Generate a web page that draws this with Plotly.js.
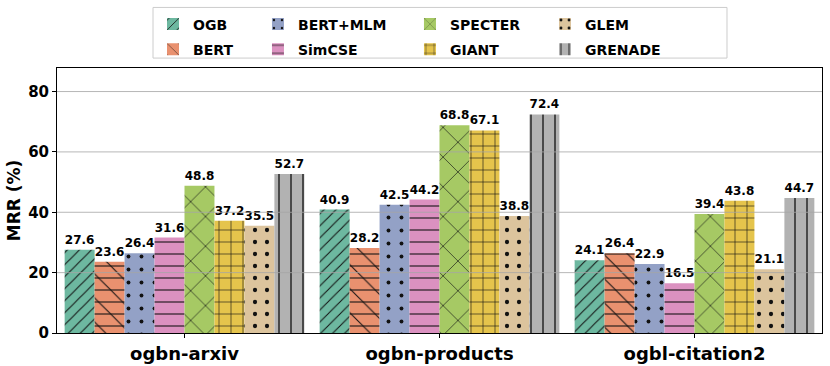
<!DOCTYPE html>
<html>
<head>
<meta charset="utf-8">
<script src="https://cdn.plot.ly/plotly-3.0.1.min.js"></script>
<style>
  html, body { margin: 0; padding: 0; background: #fff; }
  #chart { width: 830px; height: 366px; }
</style>
</head>
<body>
<div id="chart"></div>
<script>
// MRR (%) per dataset for each method
const datasets = ['ogbn-arxiv', 'ogbn-products', 'ogbl-citation2'];
const methods = ['OGB', 'BERT', 'BERT+MLM', 'SimCSE', 'SPECTER', 'GIANT', 'GLEM', 'GRENADE'];

const ogb = [27.6, 40.9, 24.1];
const bert = [23.6, 28.2, 26.4];
const bertMlm = [26.4, 42.5, 22.9];
const simcse = [31.6, 44.2, 16.5];
const specter = [48.8, 68.8, 39.4];
const giant = [37.2, 67.1, 43.8];
const glem = [35.5, 38.8, 21.1];
const grenade = [52.7, 72.4, 44.7];

const yTicks = [0, 20, 40, 60, 80];

const values = [ogb, bert, bertMlm, simcse, specter, giant, glem, grenade];
const colors = ['#6db8a0', '#e9916f', '#93a1c6', '#db91c0', '#a6c964', '#e5c44c', '#dcc49d', '#b2b2b2'];
const patterns = [
    { shape: '/', size: 8.5, solidity: 0.12 },
    { shape: '\\', size: 17, solidity: 0.06 },
    { shape: '.', size: 13, solidity: 0.07 },
    { shape: '-', size: 12, solidity: 0.09 },
    { shape: 'x', size: 21, solidity: 0.06 },
    { shape: '+', size: 12, solidity: 0.1 },
    { shape: '.', size: 12, solidity: 0.1 },
    { shape: '|', size: 12, solidity: 0.16 }
];
const legendCols = [0.1255, 0.2627, 0.4614, 0.6379];

const FONT = 'DejaVu Sans';
const nBars = methods.length;
const groupWidth = 0.94;
const barWidth = groupWidth / nBars;

const traces = [];
methods.forEach((name, i) => {
    const offset = -groupWidth / 2 + i * barWidth;
    const legendId = i < 2 ? 'legend' : 'legend' + (Math.floor(i / 2) + 1);
    traces.push({
        type: 'bar',
        name: name,
        x: datasets,
        y: values[i],
        width: barWidth,
        offset: offset,
        legend: legendId,
        legendgroup: name,
        marker: {
            color: colors[i],
            line: { width: 0 },
            pattern: Object.assign({ fgcolor: i === 7 ? '#444444' : '#111111', bgcolor: colors[i], fillmode: 'replace' }, patterns[i])
        },
        texttemplate: '%{y:.1f}',
        textposition: 'outside',
        textangle: 0,
        constraintext: 'none',
        cliponaxis: false,
        textfont: { family: FONT, size: 12, color: '#000', weight: 'bold' },
        hoverinfo: 'x+y+name'
    });
    // BERT bars carry horizontal lines on top of the backslash hatch
    if (name === 'BERT') {
        traces.push({
            type: 'bar',
            name: name,
            x: datasets,
            y: values[i],
            width: barWidth,
            offset: offset,
            showlegend: false,
            legend: legendId,
            legendgroup: name,
            marker: {
                color: 'rgba(0,0,0,0)',
                line: { width: 0 },
                pattern: { shape: '-', size: 12, solidity: 0.09, fgcolor: '#111111', bgcolor: 'rgba(0,0,0,0)', fillmode: 'replace' }
            },
            hoverinfo: 'skip'
        });
    }
});

const legendBase = {
    orientation: 'v',
    y: 1.2247,
    yanchor: 'top',
    xanchor: 'left',
    bgcolor: 'rgba(0,0,0,0)',
    borderwidth: 0,
    tracegroupgap: 4,
    font: { family: FONT, size: 14, color: '#000', weight: 'bold' }
};

const gridShapes = yTicks.filter(v => v > 0).map(v => ({
    type: 'line', xref: 'paper', x0: 0, x1: 1, yref: 'y', y0: v, y1: v,
    line: { color: 'rgba(165,165,165,0.8)', width: 1 },
    layer: 'above'
}));

const layout = {
    width: 830,
    height: 366,
    margin: { l: 57, r: 8, t: 66, b: 33 },
    paper_bgcolor: '#fff',
    plot_bgcolor: '#fff',
    barmode: 'overlay',
    font: { family: FONT, color: '#000' },
    xaxis: {
        type: 'category',
        range: [-0.5, 2.5],
        showgrid: false,
        showline: true,
        mirror: true,
        linecolor: '#000',
        linewidth: 1,
        ticks: 'outside',
        ticklen: 4,
        tickcolor: '#000',
        tickfont: { family: FONT, size: 18, color: '#000', weight: 'bold' }
    },
    yaxis: {
        range: [0, 87.8],
        tickvals: yTicks,
        showgrid: false,
        zeroline: false,
        showline: true,
        mirror: true,
        linecolor: '#000',
        linewidth: 1,
        ticks: 'outside',
        ticklen: 4,
        tickcolor: '#000',
        tickfont: { family: FONT, size: 15, color: '#000', weight: 'bold' },
        title: { text: 'MRR (%)', standoff: 3, font: { family: FONT, size: 17, color: '#000', weight: 'bold' } }
    },
    legend: Object.assign({ x: legendCols[0] }, legendBase),
    legend2: Object.assign({ x: legendCols[1] }, legendBase),
    legend3: Object.assign({ x: legendCols[2] }, legendBase),
    legend4: Object.assign({ x: legendCols[3] }, legendBase),
    shapes: gridShapes.concat([{
        type: 'rect', xref: 'paper', yref: 'paper',
        x0: 0.1255, x1: 0.8758, y0: 1.0375, y1: 1.2285,
        line: { color: '#cccccc', width: 1 },
        fillcolor: 'rgba(0,0,0,0)'
    }])
};

Plotly.newPlot('chart', traces, layout, { displayModeBar: false, staticPlot: true });
</script>
</body>
</html>
